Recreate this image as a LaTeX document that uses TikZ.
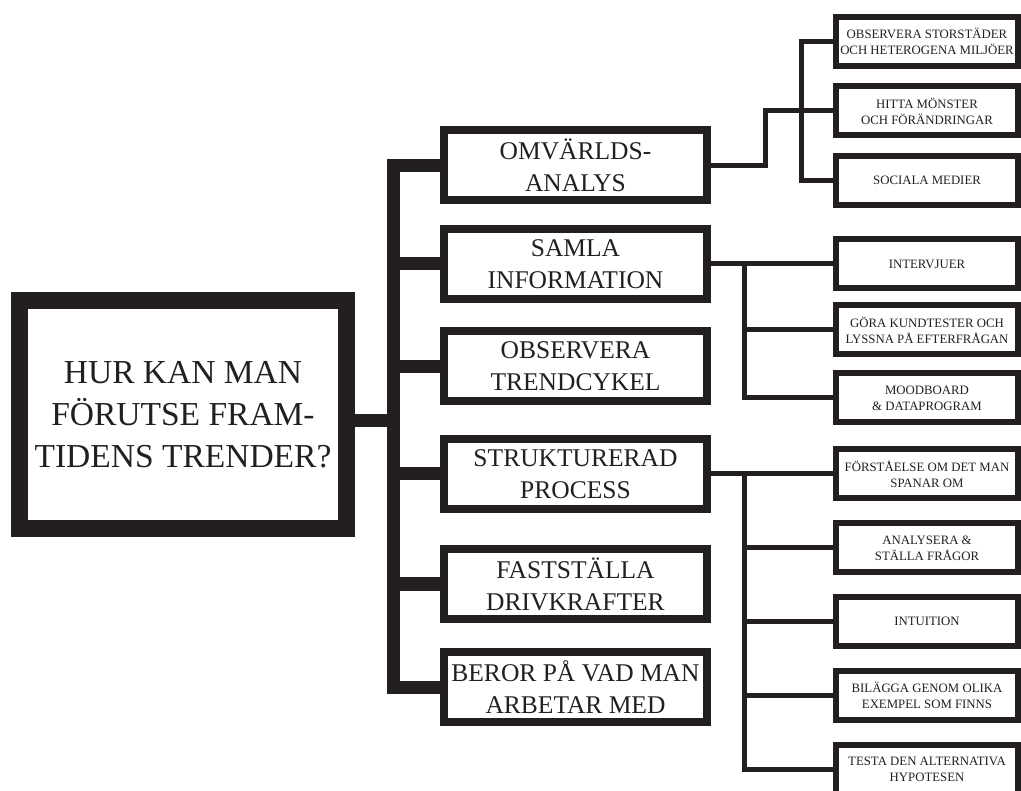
\documentclass[tikz,border=0pt]{standalone}
\usepackage{fontspec}
\setmainfont{Liberation Serif}
\usepackage{xcolor}
\usepackage{tikz}
\definecolor{ink}{HTML}{231F20}

\begin{document}
\begin{tikzpicture}[x=1pt, y=-1pt,
  box/.style={draw=ink, text=ink, fill=white, align=center, inner sep=0pt, line join=miter},
  root/.style={box, line width=17pt, minimum width=327pt, minimum height=228pt, font=\fontsize{33.5}{42}\selectfont},
  mid/.style={box, line width=8pt, minimum width=263pt, minimum height=70pt, font=\fontsize{25.5}{32}\selectfont},
  leaf/.style={box, line width=6pt, minimum width=182pt, minimum height=49pt, font=\fontsize{12.8}{16}\selectfont},
  bar/.style={draw=ink, line width=13pt, line join=miter},
  wire/.style={draw=ink, line width=5pt, line join=miter}]
  \useasboundingbox (0,0) rectangle (1021,791);
  \clip (0,0) rectangle (1021,791);
  % pixel grid, y grows downwards; three columns of boxes
  \node[root] (root)  at (183,414.5)  {HUR KAN MAN\\FÖRUTSE FRAM-\\TIDENS TRENDER?};
  \node[mid]  (omv)   at (575.5,165.5){OMVÄRLDS-\\ANALYS};
  \node[mid]  (samla) at (575.5,264)  {SAMLA\\INFORMATION};
  \node[mid]  (cykel) at (575.5,366.5){OBSERVERA\\TRENDCYKEL};
  \node[mid]  (struk) at (575.5,474)  {STRUKTURERAD\\PROCESS};
  \node[mid]  (fast)  at (575.5,584)  {FASTSTÄLLA\\DRIVKRAFTER};
  \node[mid]  (beror) at (575.5,687)  {BEROR PÅ VAD MAN\\ARBETAR MED};
  \node[leaf] (stad)  at (927,41.5)   {OBSERVERA STORSTÄDER\\OCH HETEROGENA MILJÖER};
  \node[leaf] (hitta) at (927,111)    {HITTA MÖNSTER\\OCH FÖRÄNDRINGAR};
  \node[leaf] (soc)   at (927,180.5)  {SOCIALA MEDIER};
  \node[leaf] (intv)  at (927,264)    {INTERVJUER};
  \node[leaf] (kund)  at (927,330)    {GÖRA KUNDTESTER OCH\\LYSSNA PÅ EFTERFRÅGAN};
  \node[leaf] (mood)  at (927,398)    {MOODBOARD\\\& DATAPROGRAM};
  \node[leaf] (forst) at (927,474)    {FÖRSTÅELSE OM DET MAN\\SPANAR OM};
  \node[leaf] (anal)  at (927,548)    {ANALYSERA \&\\STÄLLA FRÅGOR};
  \node[leaf] (intu)  at (927,621)    {INTUITION};
  \node[leaf] (bil)   at (927,695.5)  {BILÄGGA GENOM OLIKA\\EXEMPEL SOM FINNS};
  \node[leaf] (testa) at (927,769)    {TESTA DEN ALTERNATIVA\\HYPOTESEN};
  % x positions of the vertical runs
  \coordinate (tk) at (393.5,0); \coordinate (ofork) at (765,0); \coordinate (obrk) at (801,0);
  \coordinate (sfork) at (744,0); \coordinate (pfork) at (744,0);
  \coordinate (rootout) at ([yshift=-6.5pt]root.east);
  % thick trunk
  \draw[bar] (rootout) -- (rootout -| tk);
  \draw[bar] (omv.west) -| (tk |- beror.west) -- (beror.west);
  \draw[bar] (tk |- samla.west) -- (samla.west); \draw[bar] (tk |- cykel.west) -- (cykel.west);
  \draw[bar] (tk |- struk.west) -- (struk.west); \draw[bar] (tk |- fast.west) -- (fast.west);
  % omvärldsanalys
  \draw[wire] (omv.east) -| (ofork |- hitta.west) -- (hitta.west);
  \draw[wire] (stad.west) -| (obrk |- soc.west) -- (soc.west);
  % samla information
  \draw[wire] (samla.east) -- (intv.west); \draw[wire] (intv.west -| sfork) |- (mood.west);
  \draw[wire] (sfork |- kund.west) -- (kund.west);
  % strukturerad process
  \draw[wire] (struk.east) -- (forst.west); \draw[wire] (forst.west -| pfork) |- (testa.west);
  \draw[wire] (pfork |- anal.west) -- (anal.west); \draw[wire] (pfork |- intu.west) -- (intu.west);
  \draw[wire] (pfork |- bil.west) -- (bil.west);
\end{tikzpicture}
\end{document}
